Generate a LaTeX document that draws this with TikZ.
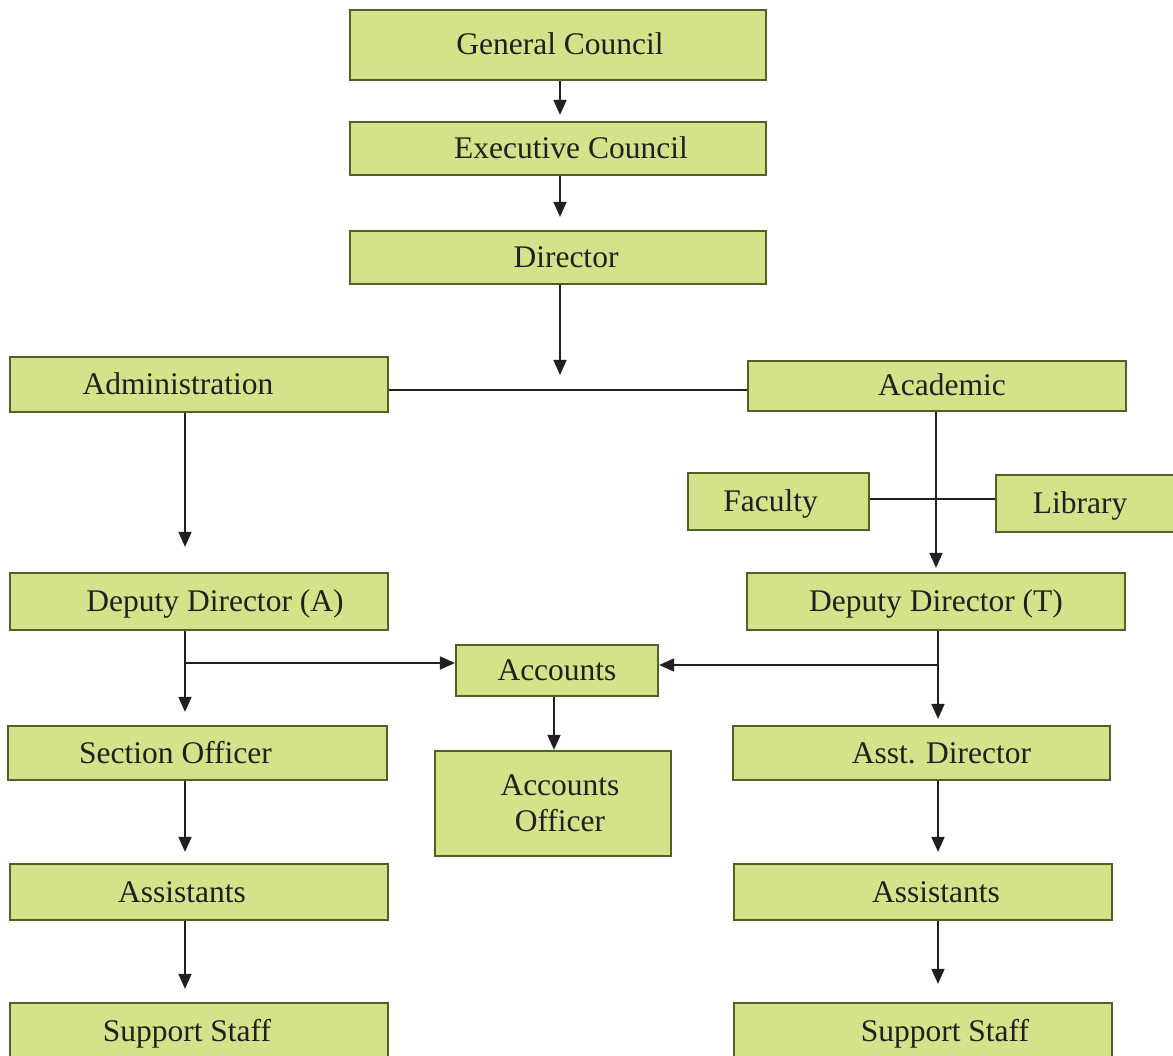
\documentclass[tikz,border=0pt]{standalone}
\usepackage{fontspec}
\setmainfont{Liberation Serif}
\usetikzlibrary{arrows.meta}
\definecolor{boxfill}{HTML}{D4E38A}
\definecolor{boxline}{HTML}{4F6228}
\definecolor{ink}{HTML}{231F20}
\newcommand\sh[2]{\hspace*{#1}#2\hspace*{-#1}}
\tikzset{
  box/.style={draw=boxline, fill=boxfill, line width=2.2pt, inner sep=0pt,
    text=ink, font=\fontsize{31.5}{36}\selectfont},
  one/.style={text height=25pt, text depth=5pt},
  conn/.style={draw=ink, line width=1.6pt},
  arr/.style={conn, -{Triangle[length=15pt,width=13pt]}}
}
\begin{document}
\begin{tikzpicture}[x=1pt,y=-1pt]
\useasboundingbox (0,0) rectangle (1173,1056);
\clip (0,0) rectangle (1173,1056);
% nodes
\node[box,one,minimum width=416pt,minimum height=70pt] (gc) at (558,45) {\sh{2pt}{General Council}};
\node[box,one,minimum width=416pt,minimum height=53pt] (ec) at (558,148.5) {\sh{13pt}{Executive Council}};
\node[box,one,minimum width=416pt,minimum height=53pt] (dir) at (558,257.5) {\sh{8pt}{Director}};
\node[box,one,minimum width=378pt,minimum height=55pt] (adm) at (199,384.5) {\sh{-21pt}{Administration}};
\node[box,one,minimum width=378pt,minimum height=50pt] (acad) at (937,386) {\sh{5pt}{Academic}};
\node[box,one,minimum width=181pt,minimum height=57pt] (fac) at (778.5,501.5) {\sh{-8pt}{Faculty}};
\node[box,one,minimum width=194pt,minimum height=57pt] (lib) at (1093,503.5) {\sh{-13pt}{Library}};
\node[box,one,minimum width=378pt,minimum height=57pt] (dda) at (199,601.5) {\sh{16pt}{Deputy Director (A)}};
\node[box,one,minimum width=378pt,minimum height=57pt] (ddt) at (936,601.5) {Deputy Director (T)};
\node[box,one,minimum width=202pt,minimum height=51pt] (acc) at (557,670.5) {Accounts};
\node[box,one,minimum width=379pt,minimum height=54pt] (so) at (197.5,753) {\sh{-22pt}{Section Officer}};
\node[box,one,minimum width=377pt,minimum height=54pt] (ad) at (921.5,753) {\sh{20pt}{Asst. Director}};
\node[box,align=center,minimum width=236pt,minimum height=105pt] (ao) at (553,803.5) {\sh{7pt}{Accounts}\\\sh{7pt}{Officer}};
\node[box,one,minimum width=378pt,minimum height=56pt] (asL) at (199,892) {\sh{-17pt}{Assistants}};
\node[box,one,minimum width=378pt,minimum height=56pt] (asR) at (923,892) {\sh{13pt}{Assistants}};
\node[box,one,minimum width=378pt,minimum height=56pt] (ssL) at (199,1031) {\sh{-12pt}{Support Staff}};
\node[box,one,minimum width=378pt,minimum height=56pt] (ssR) at (923,1031) {\sh{22pt}{Support Staff}};
% helper coordinates
\coordinate (x0) at (560,0);
\coordinate (xL) at (185,0);
\coordinate (xR) at (938,0);
\coordinate (xRa) at (936,0);
\coordinate (xA) at (554,0);
\coordinate (j1) at (560,375);
\coordinate (hj) at (0,390);
\coordinate (fl) at (0,499);
\coordinate (yA) at (0,663);
\coordinate (yB) at (0,665);
% connectors
\draw[arr, shorten >=6pt] (gc.south -| x0) -- (ec.north -| x0);
\draw[arr, shorten >=13pt] (ec.south -| x0) -- (dir.north -| x0);
\draw[arr] (dir.south -| x0) -- (j1);
\draw[conn] (adm.east |- hj) -- (acad.west |- hj);
\draw[arr, shorten >=25pt] (adm.south -| xL) -- (dda.north -| xL);
\draw[arr, shorten >=4pt] (acad.south -| xRa) -- (ddt.north -| xRa);
\draw[conn] (fac.east |- fl) -- (lib.west |- fl);
\draw[arr, shorten >=13pt] (dda.south -| xL) -- (so.north -| xL);
\draw[arr] (xL |- yA) -- (acc.west |- yA);
\draw[arr, shorten >=6pt] (ddt.south -| xR) -- (ad.north -| xR);
\draw[arr] (xR |- yB) -- (acc.east |- yB);
\draw[arr] (acc.south -| xA) -- (ao.north -| xA);
\draw[arr, shorten >=11pt] (so.south -| xL) -- (asL.north -| xL);
\draw[arr, shorten >=11pt] (ad.south -| xR) -- (asR.north -| xR);
\draw[arr, shorten >=13pt] (asL.south -| xL) -- (ssL.north -| xL);
\draw[arr, shorten >=18pt] (asR.south -| xR) -- (ssR.north -| xR);
\end{tikzpicture}
\end{document}
